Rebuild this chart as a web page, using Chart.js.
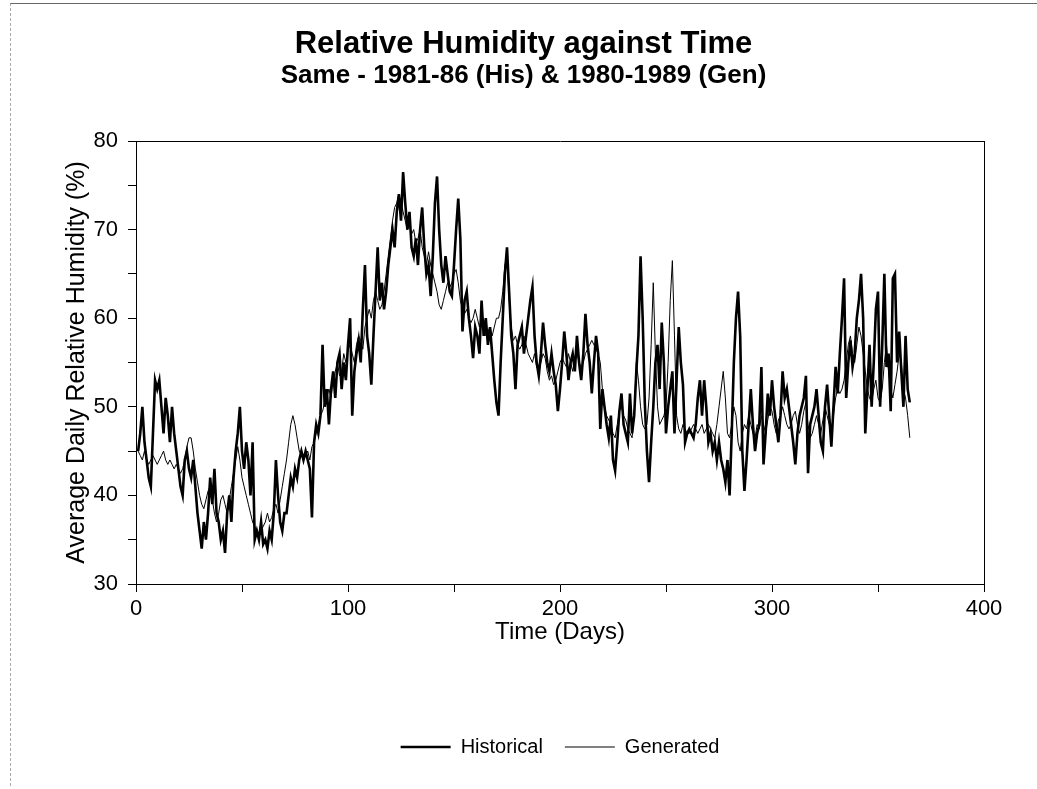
<!DOCTYPE html>
<html lang="en">

<head>
  <meta charset="UTF-8">
  <title>Relative Humidity against Time</title>
  <script src="https://cdn.jsdelivr.net/npm/chart.js"></script>
  <style>
    body {
      margin: 0;
      background: #fff;
    }

    .frame {
      position: absolute;
      left: 10px;
      top: 3px;
      width: 1026px;
      height: 782px;
      border-top: 1px solid #666;
      border-left: 1px dashed #aaa;
      pointer-events: none;
    }

    #wrap {
      width: 1037px;
      height: 789px;
    }
  </style>
</head>

<body>
  <div class="frame"></div>
  <div id="wrap"><canvas id="rhChart" width="1037" height="789"></canvas></div>
  <script>
    // day number of every daily value (1..365)
    const days = Array.from({ length: 365 }, (_, i) => i + 1);

    // historical record, 1981-86
    const historical = [
      45, 47, 50, 46, 44, 42, 41, 47, 53, 52,
      53, 50, 47, 51, 49, 46, 50, 47, 45, 43,
      41, 40, 44, 45, 43, 42, 44, 41, 38, 36,
      34, 37, 35, 38, 42, 39, 43, 38, 37, 35,
      36, 33.5, 38, 40, 37, 42, 45, 47, 50, 45,
      43, 46, 44, 40, 46, 35, 36, 35, 37, 34.5,
      35, 34, 36, 35, 38, 44, 40, 37, 36, 38,
      38, 40, 42, 41, 43, 42, 44, 45, 44, 45,
      44, 43, 37.5, 46, 48, 47, 49, 57, 50, 52,
      48, 52, 54, 51, 55, 56, 52, 55, 53, 57,
      60, 49, 54, 56, 57.5, 55, 61, 66, 58, 56,
      52.5, 58, 63, 68, 62, 64, 61, 63, 66, 68,
      70, 68, 72, 74, 71, 76.5, 73, 70, 72, 68,
      67, 69, 66, 70, 72.5, 68, 65, 66, 62.5, 67,
      73, 76, 70, 66, 64, 67, 65, 63, 62.5, 66,
      70, 73.5, 69, 58.5, 62, 63, 60, 58, 55.5, 59,
      58, 56, 62, 58, 60, 57, 59, 56, 53, 50.5,
      49, 55, 60, 65, 68, 63, 58, 56, 52, 57,
      58, 59, 56, 58, 60, 62, 63.5, 58, 55, 53.5,
      56, 59.5, 57, 55, 54, 56, 54, 52.5, 49.5, 52,
      55, 58.5, 56, 53, 55, 56, 54, 58, 55, 53,
      56, 60.5, 57, 55, 51.5, 55, 58, 56, 47.5, 52,
      50, 48, 46.5, 49, 44, 42.8, 46, 49.5, 51.5, 48,
      47, 46, 51.5, 47, 49, 54, 58, 67, 60, 50.5,
      45, 41.5, 46, 50, 55, 57, 52, 59.5, 55, 47,
      50, 52, 54, 47, 53, 59, 55, 52.5, 46, 47,
      47.5, 47, 46.5, 48, 51, 53, 49, 53, 50, 46,
      47, 45, 46, 44, 46, 44, 43, 41.5, 44, 40,
      47, 55, 60, 63, 58, 45, 40.5, 44, 48, 52,
      48, 45, 47, 48, 54.5, 43.5, 47, 51.5, 49, 53,
      50, 48, 46, 49, 54, 51, 52, 50, 48, 46,
      43.5, 47, 49, 50, 51, 53.5, 42.5, 48, 49, 50,
      52, 49, 46, 45, 50, 52.5, 49, 45.5, 50, 54.5,
      51.5, 56, 60, 64.5, 51, 55, 57.5, 54.5, 56, 60,
      62, 65, 60, 47, 52, 57, 50, 55, 61, 63,
      50, 57, 65, 54.5, 56, 49.5, 64.5, 65, 55, 58.5,
      54, 50, 58, 52, 50.5
    ];

    // generated series, 1980-1989
    const generated = [
      45, 44.5, 44, 45, 44, 43.5, 44, 44.5, 44, 43.5,
      44, 44.5, 45, 44, 43.5, 44, 43.5, 43, 43.5, 43,
      42.5, 43, 44, 45.5, 46.5, 46.5, 45, 43, 41.5, 40,
      39, 38.5, 39.5, 40.5, 41, 39.5, 38, 37, 38, 39.5,
      40, 39, 38, 39.5, 41, 42.5, 44, 45.5, 44, 42,
      41, 40, 39, 38, 37, 36.5, 36, 35.5, 36, 36.5,
      37, 38, 37, 37.5, 38.5, 39, 38, 39.5, 41, 42.5,
      44, 46, 48, 49, 48, 46.5, 45, 44.5, 44, 44.5,
      45, 44, 45.5, 46, 47, 48, 49, 49.5, 50.5, 51,
      52, 51, 53, 54, 55, 53.5, 54, 56, 55, 56.5,
      57, 56, 55, 57, 58, 57.5, 56.5, 59, 60, 61,
      60, 62, 63, 62, 61, 61.5, 63, 65, 67, 69,
      71, 72.5, 73, 74, 73, 72, 71, 70, 70.5, 69.5,
      70, 68.5, 69, 70, 68, 67, 66, 67.5, 66, 65,
      64, 63, 61.5, 61, 62, 63, 64, 63.5, 64, 65,
      65.5, 64, 62, 61, 60.5, 61, 60, 59.5, 60, 61,
      60, 59, 60, 59.5, 58, 58.5, 59, 58, 59, 60,
      60, 61, 63, 66, 67, 62, 59, 57.5, 58, 57,
      56.5, 57, 58, 57, 56, 55.5, 55, 56, 54.5, 54,
      55, 56, 55.5, 54, 53, 53.5, 52.5, 53, 54, 55,
      55.5, 55, 54.5, 56, 55, 54, 55.5, 56, 55, 54.5,
      55, 56, 56.5, 57, 57.5, 57, 56.5, 56, 55, 52,
      50, 49, 48.5, 48, 47, 46.5, 48, 49.5, 50, 49,
      48.5, 47.5, 47, 46.5, 49, 55, 53, 50, 48, 47.5,
      48, 51, 57, 64, 56, 50, 48, 48.5, 49, 50,
      55, 62, 66.5, 58, 49, 47.5, 47, 48, 47.5, 47,
      47, 47.5, 48, 47.5, 47, 47.5, 48, 47, 47.5, 48,
      47.5, 47, 46.5, 48, 50, 52, 54, 51, 47, 46.5,
      48, 50, 49, 46, 45, 47, 48, 47.5, 49, 48,
      47, 46.5, 48, 47.5, 49, 48, 47, 48.5, 50, 49.5,
      48, 47, 48.5, 49, 50, 49, 48, 47.5, 48, 49,
      49.5, 48, 47, 48, 49.5, 50.5, 48, 46.5, 47, 48,
      49, 48, 47, 48.5, 50, 49, 48, 47.5, 49, 51,
      52, 51.5, 52, 53, 55, 57, 58, 56, 55, 57,
      59, 58, 56, 54, 52, 51, 50.5, 52, 53, 51,
      50.5, 52, 55, 57, 54, 52, 51, 52.5, 54, 56,
      55, 52, 51, 49, 46.5
    ];

    const xLabelTicks = [0, 100, 200, 300, 400];
    const yLabelTicks = [30, 40, 50, 60, 70, 80];

    const FONT = "'Liberation Sans', Arial, sans-serif";
    Chart.defaults.color = '#000';
    Chart.defaults.font.family = FONT;

    function toPoints(values) {
      return values.map((v, i) => ({ x: days[i], y: v }));
    }

    new Chart(document.getElementById('rhChart').getContext('2d'), {
      type: 'line',
      data: {
        datasets: [{
          label: 'Historical',
          data: toPoints(historical),
          borderColor: '#000',
          backgroundColor: '#000',
          borderWidth: 2.6,
          pointRadius: 0,
          tension: 0
        }, {
          label: 'Generated',
          data: toPoints(generated),
          borderColor: '#000',
          backgroundColor: '#000',
          borderWidth: 1,
          pointRadius: 0,
          tension: 0
        }]
      },
      options: {
        responsive: false,
        animation: false,
        layout: {
          padding: { left: 10, right: 0, top: 0, bottom: 22 }
        },
        scales: {
          x: {
            type: 'linear',
            position: 'bottom',
            min: 0,
            max: 400,
            afterFit: s => { s.height = 131; },
            ticks: {
              stepSize: 50,
              padding: 4,
              maxRotation: 0,
              font: { size: 22 },
              callback: v => xLabelTicks.includes(v) ? v : ''
            },
            grid: { drawOnChartArea: false, tickLength: 8, color: '#000' },
            border: { color: '#000', width: 1 },
            title: {
              display: true,
              text: 'Time (Days)',
              font: { size: 24 },
              padding: { top: 0, bottom: 68 }
            }
          },
          y: {
            position: 'left',
            min: 30,
            max: 80,
            afterFit: s => { s.width = 126; },
            ticks: {
              stepSize: 5,
              padding: 10,
              font: { size: 22 },
              callback: v => yLabelTicks.includes(v) ? v : ''
            },
            grid: { drawOnChartArea: false, tickLength: 8, color: '#000' },
            border: { color: '#000', width: 1 },
            title: {
              display: true,
              text: 'Average Daily Relative Humidity (%)',
              font: { size: 25 },
              padding: { top: 52, bottom: 0 }
            }
          },
          xTop: {
            type: 'linear',
            position: 'top',
            min: 0,
            max: 400,
            afterFit: s => { s.height = 0; },
            ticks: { display: false },
            grid: { display: false },
            border: { color: '#000', width: 1 }
          },
          yRight: {
            position: 'right',
            min: 30,
            max: 80,
            afterFit: s => { s.width = 53; },
            ticks: { display: false },
            grid: { display: false },
            border: { color: '#000', width: 1 }
          }
        },
        plugins: {
          title: {
            display: true,
            text: 'Relative Humidity against Time',
            font: { size: 31, weight: 'bold', lineHeight: 1 },
            padding: { top: 29, bottom: 0 }
          },
          subtitle: {
            display: true,
            text: 'Same - 1981-86 (His) & 1980-1989 (Gen)',
            color: '#000',
            font: { size: 26, weight: 'bold', lineHeight: 1 },
            padding: { top: 3, bottom: 52 }
          },
          legend: {
            position: 'bottom',
            fullSize: false,
            labels: {
              usePointStyle: true,
              pointStyle: 'line',
              pointStyleWidth: 50,
              padding: 22,
              font: { size: 20 }
            }
          },
          tooltip: { enabled: false }
        }
      }
    });
  </script>
</body>

</html>
